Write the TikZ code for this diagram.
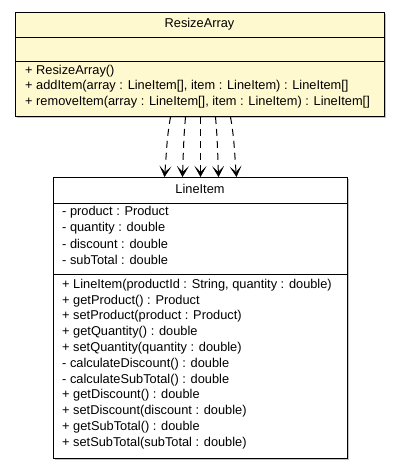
\documentclass[tikz,border=0pt]{standalone}
\usepackage{fontspec}
\setmainfont{Liberation Sans}
\usetikzlibrary{arrows.meta}
\definecolor{classfill}{RGB}{255,249,208}
\definecolor{shadowgray}{RGB}{195,195,195}
\tikzset{
  classbox/.style={draw=black, line width=1pt, anchor=north west, inner sep=0pt},
  member/.style={anchor=west, inner sep=0pt, font=\fontsize{12.8}{14}\selectfont},
  title/.style={anchor=center, inner sep=0pt, font=\fontsize{12.8}{14}\selectfont},
  sep/.style={draw=black, line width=1pt},
  dep/.style={draw=black, line width=1pt, dash pattern=on 7pt off 5pt,
    -{Stealth[length=11pt, width=12pt, inset=6pt, line width=0.6pt]}},
}
\begin{document}
\begin{tikzpicture}[x=1pt, y=-1pt]
\useasboundingbox (0,0) rectangle (400,469);
\fill[white] (0,0) rectangle (400,469);

% ResizeArray class
\fill[shadowgray] (17,14) rectangle (386,118);
\node[classbox, fill=classfill, minimum width=369pt, minimum height=104pt] (ra) at (15,12) {};
\draw[sep] (15,37) -- (384,37);
\draw[sep] (15,61) -- (384,61);
\node[title] (raname) at (199.5,24.5) {ResizeArray};
\node[member] (ra1) at (25,71) {+ ResizeArray()};
\node[member] (ra2) at (25,86.5) {+ addItem(array : LineItem[], item : LineItem) : LineItem[]};
\node[member] (ra3) at (25,102) {+ removeItem(array : LineItem[], item : LineItem) : LineItem[]};

% LineItem class
\fill[shadowgray] (55,179) rectangle (349,460);
\node[classbox, fill=white, minimum width=294pt, minimum height=281pt] (li) at (53,177) {};
\draw[sep] (53,203) -- (347,203);
\draw[sep] (53,274) -- (347,274);
\node[title] (liname) at (200,188.5) {LineItem};
\node[member] (a1) at (62,212.5) {- product : Product};
\node[member] (a2) at (62,228.3) {- quantity : double};
\node[member] (a3) at (62,244) {- discount : double};
\node[member] (a4) at (62,259.8) {- subTotal : double};
\node[member] (m1) at (62,285) {+ LineItem(productId : String, quantity : double)};
\node[member] (m2) at (62,300.8) {+ getProduct() : Product};
\node[member] (m3) at (62,316.6) {+ setProduct(product : Product)};
\node[member] (m4) at (62,332.4) {+ getQuantity() : double};
\node[member] (m5) at (62,348.2) {+ setQuantity(quantity : double)};
\node[member] (m6) at (62,364) {- calculateDiscount() : double};
\node[member] (m7) at (62,379.8) {- calculateSubTotal() : double};
\node[member] (m8) at (62,395.6) {+ getDiscount() : double};
\node[member] (m9) at (62,411.4) {+ setDiscount(discount : double)};
\node[member] (m10) at (62,427.2) {+ getSubTotal() : double};
\node[member] (m11) at (62,443) {+ setSubTotal(subTotal : double)};

% dependencies (one per operation parameter use)
\draw[dep] ([xshift=-29.5pt]ra.south) to[out=-100, in=85] ([xshift=-36pt]li.north);
\draw[dep] ([xshift=-14.5pt]ra.south) to[out=-95, in=88] ([xshift=-18pt]li.north);
\draw[dep] ([xshift=0.5pt]ra.south) -- ([xshift=0pt]li.north);
\draw[dep] ([xshift=15.5pt]ra.south) to[out=-85, in=92] ([xshift=18pt]li.north);
\draw[dep] ([xshift=30.5pt]ra.south) to[out=-80, in=95] ([xshift=36pt]li.north);
\end{tikzpicture}
\end{document}
